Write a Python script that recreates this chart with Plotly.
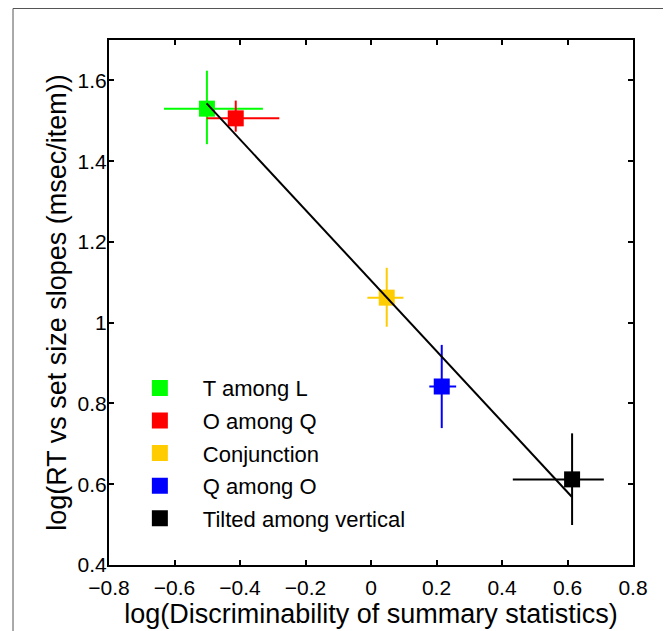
import plotly.graph_objects as go

# ---- data ----
categories = ["T among L", "O among Q", "Conjunction", "Q among O", "Tilted among vertical"]
colors = ["#00ff00", "#ff0000", "#ffcc00", "#0000ff", "#000000"]
x_vals = [-0.501, -0.413, 0.048, 0.216, 0.614]
y_vals = [1.530, 1.506, 1.062, 0.842, 0.612]
x_lo = [-0.632, -0.502, -0.011, 0.178, 0.433]
x_hi = [-0.330, -0.280, 0.099, 0.260, 0.711]
y_lo = [1.442, 1.473, 0.990, 0.739, 0.499]
y_hi = [1.624, 1.550, 1.136, 0.945, 0.726]
fit_x = [-0.502, 0.613]
fit_y = [1.543, 0.569]
x_ticks = [-0.8, -0.6, -0.4, -0.2, 0, 0.2, 0.4, 0.6, 0.8]
x_ticklabels = ["\u22120.8", "\u22120.6", "\u22120.4", "\u22120.2", "0", "0.2", "0.4", "0.6", "0.8"]
y_ticks = [0.4, 0.6, 0.8, 1.0, 1.2, 1.4, 1.6]
y_ticklabels = ["0.4", "0.6", "0.8", "1", "1.2", "1.4", "1.6"]

FONT = "Liberation Sans, Arial, Helvetica, sans-serif"

fig = go.Figure()
for name, c, x, y, xl, xh, yl, yh in zip(categories, colors, x_vals, y_vals, x_lo, x_hi, y_lo, y_hi):
    fig.add_trace(go.Scatter(
        x=[x], y=[y], mode="markers", name=name, legendgroup=name,
        marker=dict(symbol="square", size=16, color=c, line=dict(width=0)),
        error_x=dict(type="data", symmetric=False, array=[xh - x], arrayminus=[x - xl],
                     color=c, thickness=2, width=0),
        error_y=dict(type="data", symmetric=False, array=[yh - y], arrayminus=[y - yl],
                     color=c, thickness=2, width=0),
    ))

fig.add_trace(go.Scatter(x=fit_x, y=fit_y, mode="lines", showlegend=False,
                         line=dict(color="black", width=2)))

axis_common = dict(
    showgrid=False, zeroline=False, showline=True, linecolor="black", linewidth=2,
    mirror="ticks", ticks="inside", ticklen=5, tickwidth=2, tickcolor="black",
    tickfont=dict(family=FONT, size=21, color="black"),
)
fig.update_xaxes(range=[-0.8, 0.8], tickvals=x_ticks, ticktext=x_ticklabels,
                 ticklabelstandoff=3,
                 title=dict(text="log(Discriminability of summary statistics)",
                            font=dict(family=FONT, size=27, color="black"), standoff=5),
                 **axis_common)
fig.update_yaxes(range=[0.4, 1.7], tickvals=y_ticks, ticktext=y_ticklabels,
                 ticklabelstandoff=-4,
                 title=dict(text="log(RT vs set size slopes (msec/item))",
                            font=dict(family=FONT, size=27, color="black"), standoff=3),
                 **axis_common)

# outer figure frame
fig.add_shape(type="rect", xref="paper", yref="paper",
              x0=-0.1832, x1=1.0668, y0=-0.25, y1=1.0600,
              line=dict(color="#555555", width=1), layer="below")

fig.update_layout(
    width=663, height=623,
    margin=dict(l=101, r=38, t=32, b=66, autoexpand=False),
    plot_bgcolor="white", paper_bgcolor="white",
    font=dict(family=FONT, color="black"),
    legend=dict(x=0.015, y=0.377, xanchor="left", yanchor="top",
                bgcolor="rgba(0,0,0,0)", itemwidth=76,
                traceorder="grouped", tracegroupgap=1,
                font=dict(family=FONT, size=22, color="black")),
)

fig.write_html("out.html")
